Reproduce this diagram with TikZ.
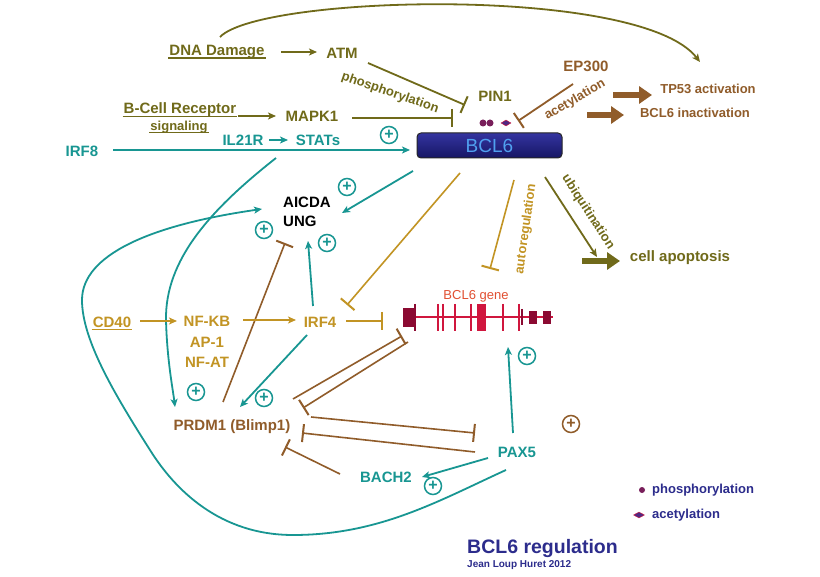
\documentclass[tikz,border=0pt]{standalone}
\usepackage{fontspec}
\setmainfont{Liberation Sans}
\usetikzlibrary{arrows.meta,shapes.geometric}
\definecolor{olv}{RGB}{112,106,26}
\definecolor{tl}{RGB}{24,150,146}
\definecolor{brn}{RGB}{144,92,42}
\definecolor{gld}{RGB}{194,148,36}
\definecolor{gdk}{RGB}{139,10,50}
\definecolor{gcr}{RGB}{208,22,62}
\definecolor{ttl}{RGB}{44,44,140}
\definecolor{bxtop}{RGB}{52,52,160}
\definecolor{bxbot}{RGB}{22,22,100}
\definecolor{bxtxt}{RGB}{80,160,240}
\definecolor{gtxt}{RGB}{225,80,50}
\definecolor{dotc}{RGB}{120,30,90}
\definecolor{diac}{RGB}{80,40,130}
\begin{document}
\begin{tikzpicture}[x=1pt,y=-1pt,
  lab/.style={font=\fontsize{15}{17}\selectfont\bfseries, inner sep=1pt},
  sml/.style={font=\fontsize{13}{15}\selectfont\bfseries, inner sep=1pt},
  ar/.style={-{Stealth[length=8pt,width=7pt,inset=2pt]}, line width=1.8pt},
  inh/.style={-{Bar[width=18pt,line width=2pt]}, line width=1.8pt},
  bigar/.style={-{Triangle[length=13pt,width=17pt]}, line width=5.5pt},
  uln/.style={line width=1.2pt},
  plusc/.style={circle, draw, line width=1.5pt, minimum size=17pt, inner sep=0pt,
    font=\fontsize{16}{16}\selectfont\bfseries}]
\useasboundingbox (0,0) rectangle (820,577);
\fill[white] (0,0) rectangle (820,577);

% ---------- text nodes ----------
\node[lab,olv] (dna) at (217,52) {DNA Damage};
\node[lab,olv] (atm) at (342,53) {ATM};
\node[lab,olv] (pin1) at (495,96) {PIN1};
\node[lab,olv] (bcr) at (180,110) {B-Cell Receptor};
\node[sml,olv] (sig) at (179,127) {signaling};
\node[lab,olv] (mapk1) at (312,116) {MAPK1};
\node[lab,tl] (irf8) at (82,151) {IRF8};
\node[lab,tl] (il21r) at (243,140) {IL21R};
\node[lab,tl] (stats) at (318,140) {STATs};
\node[lab,brn] (ep300) at (586,66) {EP300};
\node[sml,brn] (tp53) at (708,89) {TP53 activation};
\node[sml,brn] (inact) at (695,113) {BCL6 inactivation};
\node[draw=black!85, line width=1pt, rounded corners=4pt, top color=bxtop, bottom color=bxbot,
  minimum width=145pt, minimum height=25pt, inner sep=0pt, text=bxtxt,
  font=\fontsize{19}{19}\selectfont] (bcl6) at (489.5,145.5) {BCL6};
\node[lab,black,anchor=west] (aicda) at (282,202) {AICDA};
\node[lab,black,anchor=west] (ung) at (282,221) {UNG};
\node[lab,gld] (cd40) at (112,322) {CD40};
\node[lab,gld] (nfkb) at (207,321) {NF-KB};
\node[lab,gld] (ap1) at (207,342) {AP-1};
\node[lab,gld] (nfat) at (207,362) {NF-AT};
\node[lab,gld] (irf4) at (320,322) {IRF4};
\node[font=\fontsize{13}{15}\selectfont, text=gtxt, inner sep=1pt] (gene) at (476,296) {BCL6 gene};
\node[lab,olv] (apop) at (680,258) {cell apoptosis};
\node[lab,brn] (prdm1) at (232,427) {PRDM1 (Blimp1)};
\node[lab,tl] (pax5) at (517,452) {PAX5};
\node[lab,tl] (bach2) at (386,477) {BACH2};

% underlines
\draw[uln,olv] ([yshift=-2.5pt]dna.base west) -- ([yshift=-2.5pt]dna.base east);
\draw[uln,olv] ([yshift=-2.5pt]bcr.base west) -- ([yshift=-2.5pt]bcr.base east);
\draw[uln,olv] ([yshift=-2.5pt]sig.base west) -- ([yshift=-2.5pt]sig.base east);
\draw[uln,gld] ([yshift=-2.5pt]cd40.base west) -- ([yshift=-2.5pt]cd40.base east);

% rotated labels
\node[sml,olv,rotate=-19] (phos) at (390,93) {phosphorylation};
\node[sml,brn,rotate=30] (acet) at (575,100) {acetylation};
\node[sml,gld,rotate=82] (autor) at (526,229) {autoregulation};
\node[sml,olv,rotate=-57] (ubiq) at (588,212) {ubiquitination};

% plus signs
\node[plusc,tl] (p1) at (389,135) {+};
\node[plusc,tl] (p2) at (347,187) {+};
\node[plusc,tl] (p3) at (264,230) {+};
\node[plusc,tl] (p4) at (327,243) {+};
\node[plusc,tl] (p5) at (196,392) {+};
\node[plusc,tl] (p6) at (264,398) {+};
\node[plusc,tl] (p7) at (527,356) {+};
\node[plusc,tl] (p8) at (433,486) {+};
\node[plusc,brn] (p9) at (571,424) {+};

% modification marks near BCL6
\node[circle, fill=dotc, minimum size=7pt, inner sep=0pt] (d1) at (483,123) {};
\node[circle, fill=dotc, minimum size=7pt, inner sep=0pt] (d2) at (490,123) {};
\node[diamond, fill=diac, draw=gcr, line width=0.4pt, minimum width=10pt, minimum height=6pt, inner sep=0pt] (d3) at (506,123) {};

% ---------- connector end points ----------
\coordinate (dnatop) at (220,37);
\coordinate (arcend) at (700,62);
\coordinate (dnaE) at (281,52);
\coordinate (atmW) at (317,52);
\coordinate (atmS) at (368,63);
\coordinate (atmend) at (465,105);
\coordinate (bcrE) at (238,116);
\coordinate (mapkW) at (276,116);
\coordinate (mapkE) at (352,118);
\coordinate (mapkend) at (453,118);
\coordinate (ep300s) at (573,84);
\coordinate (ep300e) at (518,121);
\coordinate (ba1) at (613,95);
\coordinate (ba1e) at (652,95);
\coordinate (ba2) at (587,115);
\coordinate (ba2e) at (624,115);
\coordinate (irf8E) at (113,150);
\coordinate (irf8e) at (410,150);
\coordinate (il21E) at (269,140);
\coordinate (statsW) at (288,140);
\coordinate (b2a) at (413,171);
\coordinate (aicdaR) at (342,213);
\coordinate (aicdaB) at (308,241);
\coordinate (aicdaL) at (262,209);
\coordinate (aicdaBar) at (285,243);
\coordinate (irf4t) at (313,306);
\coordinate (statss) at (276,158);
\coordinate (prdmtop) at (175,407);
\coordinate (prdmtopR) at (240,407);
\coordinate (prdmtop2) at (223,402);
\coordinate (irf4bl) at (307,335);
\coordinate (cd40E) at (140,321);
\coordinate (nfkbW) at (177,321);
\coordinate (nfkbE) at (243,320);
\coordinate (irf4W) at (296,320);
\coordinate (irf4E) at (346,321);
\coordinate (geneL) at (383,321);
\coordinate (bcl6a) at (460,173);
\coordinate (irf4bar) at (347,305);
\coordinate (auts) at (514,180);
\coordinate (aute) at (490,269);
\coordinate (ubs) at (545,177);
\coordinate (ube) at (597,257);
\coordinate (ba3) at (582,261);
\coordinate (ba3e) at (620,261);
\coordinate (la1) at (293,399);
\coordinate (la2) at (402,336);
\coordinate (lb1) at (408,342);
\coordinate (lb2) at (303,408);
\coordinate (pr1) at (311,417);
\coordinate (pax5L1) at (475,433);
\coordinate (pax5L2) at (475,452);
\coordinate (prR) at (302,433);
\coordinate (bach2s) at (340,474);
\coordinate (prB) at (285,447);
\coordinate (pax5t) at (513,433);
\coordinate (geneB) at (508,347);
\coordinate (pax5bl) at (488,458);
\coordinate (bach2e) at (422,477);
\coordinate (pax5loop) at (506,470);

% ---------- connectors ----------
\draw[ar,olv] (dnatop) .. controls (260,-5) and (640,-15) .. (arcend);
\draw[ar,olv] (dnaE) -- (atmW);
\draw[inh,olv] (atmS) -- (atmend);
\draw[ar,olv] (bcrE) -- (mapkW);
\draw[inh,olv] (mapkE) -- (mapkend);
\draw[inh,brn] (ep300s) -- (ep300e);
\draw[bigar,brn] (ba1) -- (ba1e);
\draw[bigar,brn] (ba2) -- (ba2e);
\draw[ar,tl] (irf8E) -- (irf8e);
\draw[ar,tl] (il21E) -- (statsW);
\draw[ar,tl] (b2a) -- (aicdaR);
\draw[ar,tl] (irf4t) -- (aicdaB);
\draw[inh,brn,line width=1.6pt] (prdmtop2) -- (aicdaBar);
% big loop from PAX5 to AICDA
\draw[ar,tl] (pax5loop) .. controls (440,500) and (380,535) .. (293,535)
  .. controls (220,535) and (175,490) .. (150,450)
  .. controls (115,395) and (82,340) .. (82,300)
  .. controls (82,255) and (150,225) .. (aicdaL);
% STATs to PRDM1
\draw[ar,tl] (statss) .. controls (210,210) and (165,260) .. (166,320)
  .. controls (167,360) and (173,390) .. (prdmtop);
\draw[ar,gld] (cd40E) -- (nfkbW);
\draw[ar,gld] (nfkbE) -- (irf4W);
\draw[inh,gld] (irf4E) -- (geneL);
\draw[inh,gld,line width=1.6pt] (bcl6a) -- (irf4bar);
\draw[inh,gld,line width=1.6pt] (auts) -- (aute);
\draw[ar,olv] (ubs) -- (ube);
\draw[bigar,olv] (ba3) -- (ba3e);
\draw[ar,tl] (irf4bl) -- (prdmtopR);
\draw[inh,brn,line width=1.6pt] (la1) -- (la2);
\draw[inh,brn,line width=1.6pt] (lb1) -- (lb2);
\draw[inh,brn,line width=1.6pt] (pr1) -- (pax5L1);
\draw[inh,brn,line width=1.6pt] (pax5L2) -- (prR);
\draw[inh,brn,line width=1.6pt] (bach2s) -- (prB);
\draw[ar,tl] (pax5t) -- (geneB);
\draw[ar,tl] (pax5bl) -- (bach2e);

% ---------- BCL6 gene ----------
\draw[gcr, line width=2pt] (403,317) -- (553,317);
\fill[gdk] (403,308) rectangle (414,327);
\draw[gdk, line width=1.5pt] (415,304) -- (415,331);
\foreach \gx in {438,443,455,471,503,519}{
  \draw[gcr, line width=1.6pt] (\gx,304) -- (\gx,331);
}
\fill[gcr] (477,304) rectangle (486,331);
\draw[gdk, line width=1.5pt] (522,309) -- (522,325);
\fill[gdk] (529,311) rectangle (537,324);
\fill[gdk] (543,311) rectangle (551,324);

% ---------- legend ----------
\node[circle, fill=dotc, minimum size=6pt, inner sep=0pt] (ld1) at (642,490) {};
\node[sml,ttl,anchor=west] (lt1) at (651,490) {phosphorylation};
\node[diamond, fill=diac, draw=gcr, line width=0.4pt, minimum width=11pt, minimum height=6pt, inner sep=0pt] (ld2) at (639,515) {};
\node[sml,ttl,anchor=west] (lt2) at (651,515) {acetylation};

% ---------- title ----------
\node[font=\fontsize{19.5}{21}\selectfont\bfseries, text=ttl, anchor=west, inner sep=0pt] (title) at (467,549) {BCL6 regulation};
\node[font=\fontsize{10}{12}\selectfont\bfseries, text=ttl, anchor=west, inner sep=0pt] (auth) at (467,565) {Jean Loup Huret 2012};
\end{tikzpicture}
\end{document}
